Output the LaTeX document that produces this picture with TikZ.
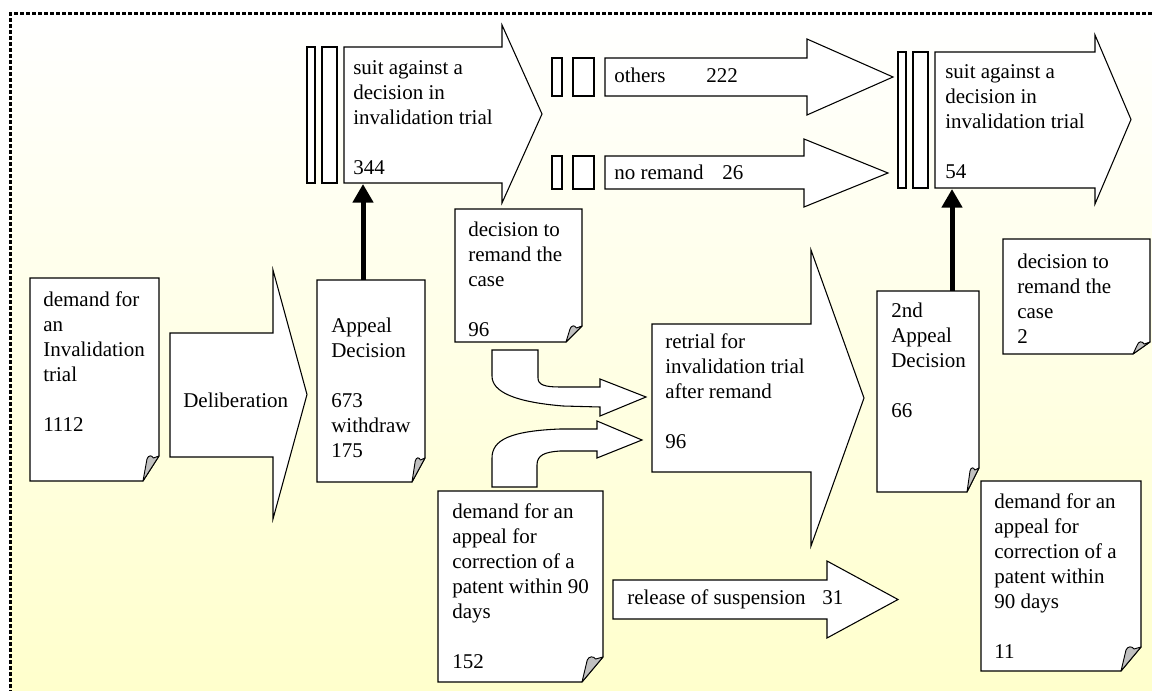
\documentclass[tikz,border=0pt]{standalone}
\usepackage{fontspec}
\setmainfont{Liberation Serif}
\usetikzlibrary{arrows.meta}
\definecolor{bgyellow}{RGB}{255,255,204}
\definecolor{foldgray}{RGB}{192,192,192}
\newcommand\fr{\rule{0pt}{15pt}}
% left, top, right, bottom, fold width, fold height
\newcommand\docshape[6]{%
  \draw[doc] (#1,#2) -- (#3,#2) -- (#3,#4-#6) -- (#3-#5,#4) -- (#1,#4) -- cycle;
  \draw[curl] (#3-#5,#4) -- ({#3-#5+0.25*#5},{#4-#6+3})
     .. controls ({#3-#5+0.33*#5},{#4-#6-1}) and ({#3-#5+0.55*#5},{#4-#6-1}) ..
     ({#3-#5+0.65*#5},{#4-#6+2}) -- (#3,#4-#6) -- cycle;}
% body left, body top, body bottom, head base x, head top, head bottom, tip x
\newcommand\blockarrow[7]{%
  \draw[blk] (#1,#2) -- (#4,#2) -- (#4,#5) -- (#7,{(#5+#6)/2}) -- (#4,#6) -- (#4,#3) -- (#1,#3) -- cycle;}
\tikzset{
  doc/.style={draw=black, fill=white, line width=0.8pt, line join=miter},
  curl/.style={draw=black, fill=foldgray, line width=0.7pt, line join=round},
  blk/.style={draw=black, fill=white, line width=0.8pt, line join=miter},
  txt/.style={anchor=north west, inner sep=0pt, align=left,
              font=\fontsize{15.75pt}{18.75pt}\selectfont},
  link/.style={line width=3.75pt, -{Triangle[length=14pt,width=15pt]}},
  frameline/.style={line width=2.25pt, dash pattern=on 3pt off 1.5pt},
}
\begin{document}
\begin{tikzpicture}[x=0.75pt,y=-0.75pt]
\useasboundingbox (0,0) rectangle (1152,691);
\clip (0,0) rectangle (1152,691);
% background
\shade[top color=white, bottom color=bgyellow] (10,14) rectangle (1152,691);
\draw[frameline] (10,700) -- (10,14) -- (1160,14);

% ---- documents ----
\docshape{30}{278}{159}{481}{16}{25}
\docshape{317}{280}{425}{482}{13}{24}
\docshape{455}{209}{582}{342}{16}{16}
\docshape{877}{291}{979}{492}{12}{24}
\docshape{1003}{239}{1150}{354}{17}{12}
\docshape{981}{481}{1141}{671}{20}{24}
\docshape{438}{491}{603}{682}{21}{25}

% ---- block arrows ----
\blockarrow{170}{333}{457}{273}{270}{519}{307}
\blockarrow{344}{47}{183}{502}{25}{203}{542}
\blockarrow{605}{58}{96}{807}{39}{115}{893}
\blockarrow{605}{156}{189}{804}{139}{207}{888}
\blockarrow{935}{52}{188}{1095}{35}{204}{1131}
\blockarrow{652}{324}{472}{811}{250}{546}{864}
\blockarrow{613}{580}{619}{827}{561}{638}{898}

% ---- small bars ----
\draw[blk] (307,47) rectangle (315,183);
\draw[blk] (322,47) rectangle (337,183);
\draw[blk] (552,58) rectangle (562,96);
\draw[blk] (573,58) rectangle (594,96);
\draw[blk] (552,156) rectangle (562,189);
\draw[blk] (573,156) rectangle (594,189);
\draw[blk] (898,52) rectangle (906,188);
\draw[blk] (913,52) rectangle (928,188);

% ---- bent arrows ----
\draw[blk] (492,350) -- (538,350) -- (538,378) .. controls (538,385) and (545,387) .. (560,387)
  -- (600,387) -- (600,379) -- (646,397) -- (600,416) -- (600,407) -- (563,406)
  .. controls (515,402) and (492,392) .. (492,376) -- cycle;
\draw[blk] (492,487) -- (492,458) .. controls (492,440) and (510,431) .. (560,429)
  -- (597,429) -- (597,421) -- (642,440) -- (597,458) -- (597,451) -- (560,451)
  .. controls (545,452) and (537,455) .. (537,465) -- (537,487) -- cycle;

% ---- thick connectors ----
\coordinate (appeal-top) at (363,280);
\coordinate (suit1-bottom) at (363,184);
\coordinate (appeal2-top) at (952,291);
\coordinate (suit2-bottom) at (952,189);
\draw[link] (appeal-top) -- (suit1-bottom);
\draw[link] (appeal2-top) -- (suit2-bottom);

% ---- texts ----
\node[txt] (t-demand) at (43,286.5) {\fr demand for\\an\\Invalidation\\trial\\[18.75pt]1112};
\node[txt] (t-delib) at (183,387.5) {\fr Deliberation};
\node[txt] (t-appeal) at (331,312.5) {\fr Appeal\\Decision\\[18.75pt]673\\withdraw\\175};
\node[txt] (t-suit1) at (353,54.5) {\fr suit against a\\decision in\\invalidation trial\\[18.75pt]344};
\node[txt] (t-others) at (614,62.5) {\fr\makebox[69pt][l]{others}222};
\node[txt] (t-noremand) at (614,159.5) {\fr\makebox[81pt][l]{no remand}26};
\node[txt] (t-suit2) at (945,58.5) {\fr suit against a\\decision in\\invalidation trial\\[18.75pt]54};
\node[txt] (t-remand1) at (468,216.5) {\fr decision to\\remand the\\case\\[18.75pt]96};
\node[txt] (t-retrial) at (665,328.5) {\fr retrial for\\invalidation trial\\after remand\\[18.75pt]96};
\node[txt] (t-appeal2) at (891,297.5) {\fr 2nd\\Appeal\\Decision\\[18.75pt]66};
\node[txt] (t-remand2) at (1017,248.5) {\fr decision to\\remand the\\case\\2};
\node[txt] (t-corr2) at (994,488.5) {\fr demand for an\\appeal for\\correction of a\\patent within\\90 days\\[18.75pt]11};
\node[txt] (t-corr1) at (452,498.5) {\fr demand for an\\appeal for\\correction of a\\patent within 90\\days\\[18.75pt]152};
\node[txt] (t-release) at (627,584.5) {\fr\makebox[146.25pt][l]{release of suspension}31};
\end{tikzpicture}
\end{document}
